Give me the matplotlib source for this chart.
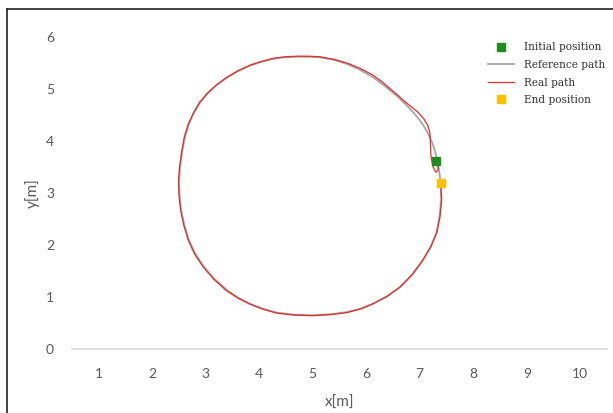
""" Circle trajectory: reference path vs real path """

import matplotlib
matplotlib.use('Agg')
import matplotlib.pyplot as plt
from matplotlib.lines import Line2D

# reference path (gray)
ref_x = [7.39, 7.36, 7.33, 7.28, 7.22, 7.15, 7.08, 7.00, 6.88, 6.75, 6.60, 6.44, 6.28,
         6.12, 5.88, 5.64, 5.40, 5.13, 4.92, 4.71, 4.48, 4.26, 4.04, 3.83, 3.60, 3.40,
         3.20, 3.03, 2.89, 2.77, 2.68, 2.61, 2.56, 2.52, 2.50, 2.51, 2.54, 2.60, 2.68,
         2.80, 2.96, 3.16, 3.40, 3.60, 3.83, 4.08, 4.33, 4.66, 5.00, 5.33, 5.64, 5.90,
         6.12, 6.38, 6.62, 6.85, 7.05, 7.20, 7.31, 7.37, 7.40, 7.39]
ref_y = [3.19, 3.45, 3.62, 3.83, 4.00, 4.15, 4.28, 4.40, 4.55, 4.69, 4.84, 4.98, 5.11,
         5.23, 5.37, 5.48, 5.56, 5.61, 5.62, 5.62, 5.61, 5.58, 5.52, 5.45, 5.34, 5.22,
         5.07, 4.91, 4.73, 4.53, 4.31, 4.07, 3.80, 3.50, 3.22, 2.95, 2.67, 2.38, 2.11,
         1.84, 1.59, 1.35, 1.13, 0.99, 0.87, 0.77, 0.70, 0.66, 0.65, 0.67, 0.71, 0.78,
         0.87, 1.01, 1.18, 1.42, 1.70, 1.96, 2.23, 2.55, 2.87, 3.19]

# real path (red)
real_x = [7.31, 7.34, 7.34, 7.30, 7.25, 7.21, 7.20, 7.19, 7.15, 7.08, 6.97, 6.85, 6.72,
          6.58, 6.42, 6.28, 6.12, 5.88, 5.64, 5.40, 5.13, 4.92, 4.71, 4.48, 4.26, 4.04,
          3.83, 3.60, 3.40, 3.20, 3.03, 2.88, 2.77, 2.67, 2.60, 2.55, 2.51, 2.49, 2.50,
          2.53, 2.59, 2.67, 2.79, 2.95, 3.15, 3.39, 3.60, 3.83, 4.08, 4.33, 4.66, 5.00,
          5.33, 5.64, 5.90, 6.13, 6.39, 6.63, 6.86, 7.06, 7.21, 7.32, 7.38, 7.41, 7.39]
real_y = [3.62, 3.52, 3.43, 3.40, 3.50, 3.70, 3.95, 4.15, 4.30, 4.42, 4.55, 4.65, 4.76,
          4.89, 5.03, 5.15, 5.27, 5.40, 5.50, 5.57, 5.62, 5.63, 5.63, 5.62, 5.59, 5.53,
          5.46, 5.35, 5.23, 5.08, 4.92, 4.74, 4.54, 4.32, 4.08, 3.80, 3.50, 3.23, 2.95,
          2.67, 2.38, 2.10, 1.83, 1.58, 1.34, 1.12, 0.98, 0.86, 0.76, 0.69, 0.65, 0.64,
          0.66, 0.70, 0.77, 0.87, 1.01, 1.19, 1.43, 1.71, 1.97, 2.24, 2.55, 2.87, 3.19]

start_pos = (7.31, 3.62)
end_pos = (7.39, 3.19)

x_ticks = [1, 2, 3, 4, 5, 6, 7, 8, 9, 10]
y_ticks = [0, 1, 2, 3, 4, 5, 6]


def main():
    """Plot the graph"""
    fig = plt.figure(figsize=(6.13, 4.13), dpi=100)
    axes = fig.add_axes([72 / 613, 1 - 349 / 413, 535 / 613, 312 / 413])

    axes.plot(start_pos[0], start_pos[1], 's', color='#1e8c1e', markersize=5.5,
              label='Initial position', zorder=5)
    axes.plot(ref_x, ref_y, color='#a6a6a6', linewidth=1.3, label='Reference path')
    axes.plot(real_x, real_y, color='#e0302a', linewidth=0.9, label='Real path')
    axes.plot(end_pos[0], end_pos[1], 's', color='#ffc000', markersize=5.5,
              label='End position', zorder=5)

    axes.set_xlim(0.5, 10.5)
    axes.set_ylim(0, 6)
    axes.set_xticks(x_ticks)
    axes.set_yticks(y_ticks)
    for side in ['top', 'right', 'left']:
        axes.spines[side].set_visible(False)
    axes.spines['bottom'].set_color('#d9d9d9')
    axes.spines['bottom'].set_linewidth(1.2)
    axes.tick_params(length=0, labelsize=10, labelcolor='#595959')
    axes.tick_params(axis='x', pad=14)
    axes.tick_params(axis='y', pad=13)
    for lab in axes.get_xticklabels() + axes.get_yticklabels():
        lab.set_family('Lato')

    axes.set_xlabel('x[m]', fontsize=11, color='#595959', family='Lato', labelpad=11)
    axes.set_ylabel('y[m]', fontsize=11, color='#595959', family='Lato', labelpad=4)

    axes.legend(loc='upper left', bbox_to_anchor=(0.7776, 0.983), frameon=False,
                borderaxespad=0, borderpad=0,
                prop={'family': 'DejaVu Serif', 'size': 7.6}, handlelength=2.5,
                labelspacing=0.72, handletextpad=0.9, labelcolor='#333333')

    # frame of the pasted picture (top and left edges)
    fig.add_artist(Line2D([7 / 613, 7 / 613], [0, 1 - 9 / 413], color='#222222',
                          linewidth=1.2, transform=fig.transFigure))
    fig.add_artist(Line2D([7 / 613, 1], [1 - 9 / 413, 1 - 9 / 413], color='#222222',
                          linewidth=1.2, transform=fig.transFigure))

    fig.savefig('out.png', dpi=100)


main()
